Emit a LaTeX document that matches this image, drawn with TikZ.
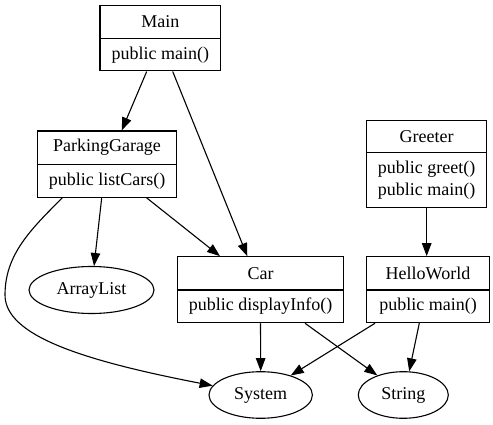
\documentclass[tikz,border=0pt]{standalone}
\usepackage{fontspec}
\setmainfont{Liberation Serif}
\usetikzlibrary{arrows.meta,shapes.geometric}
\begin{document}
\begin{tikzpicture}[x=1pt,y=-1pt,
  font=\fontsize{18}{21.6}\selectfont,
  box/.style={draw,line width=1.1pt,inner sep=0pt,rectangle},
  oval/.style={draw,line width=1.1pt,ellipse,inner sep=0pt},
  txt/.style={inner sep=0pt,align=center},
  edge/.style={line width=1.1pt,-{Triangle[length=13pt,width=9.5pt]}}]
\useasboundingbox (0,0) rectangle (493,425);
% Main
\node[box,minimum width=120.7pt,minimum height=65.3pt] (main) at (160.3,38.3) {};
\draw[line width=1.1pt] (100,38.3) -- (220.7,38.3);
\node[txt] (mainT) at (160.3,22) {Main};
\node[txt] (mainB) at (160.3,54.7) {public main()};
% ParkingGarage
\node[box,minimum width=138.6pt,minimum height=66.3pt] (pg) at (107,164.2) {};
\draw[line width=1.1pt] (37.7,164.3) -- (176.3,164.3);
\node[txt] (pgT) at (107,147.6) {ParkingGarage};
\node[txt] (pgB) at (107,180.8) {public listCars()};
% Greeter
\node[box,minimum width=120pt,minimum height=87pt] (gr) at (426.7,164.2) {};
\draw[line width=1.1pt] (366.7,152.7) -- (486.7,152.7);
\node[txt] (grT) at (426.7,136.7) {Greeter};
\node[txt] (grB) at (426.7,180.2) {public greet()\\public main()};
% Car
\node[box,minimum width=165.6pt,minimum height=66pt] (car) at (260.5,289.7) {};
\draw[line width=1.1pt] (177.7,290) -- (343.3,290);
\node[txt] (carT) at (260.5,273.4) {Car};
\node[txt] (carB) at (260.5,306.4) {public displayInfo()};
% HelloWorld
\node[box,minimum width=122.6pt,minimum height=66pt] (hw) at (428,289.7) {};
\draw[line width=1.1pt] (366.7,290) -- (489.3,290);
\node[txt] (hwT) at (428,273.4) {HelloWorld};
\node[txt] (hwB) at (428,306.4) {public main()};
% Ellipses
\node[oval,minimum width=125pt,minimum height=47pt] (al) at (91.5,290) {ArrayList};
\node[oval,minimum width=103.4pt,minimum height=46.6pt] (sys) at (260.7,395) {System};
\node[oval,minimum width=90pt,minimum height=46.6pt] (str) at (403.3,395) {String};
% Edges
\draw[edge] ([xshift=-13.6pt]main.south) -- ([xshift=14.7pt]pg.north);
\draw[edge] ([xshift=12.4pt]main.south) -- ([xshift=-13.2pt]car.north);
\draw[edge] ([xshift=-5.3pt]pg.south) -- (al.84);
\draw[edge] ([xshift=39.7pt]pg.south) -- ([xshift=-40.5pt]car.north);
\draw[edge] ([xshift=-44.7pt]pg.south) .. controls (30,230) and (5,255) .. (5,295)
   .. controls (5,335) and (80,360) .. (sys.169);
\draw[edge] (car.south) -- (sys.north);
\draw[edge] ([xshift=44.5pt]car.south) -- (str.143);
\draw[edge] (gr.south) -- ([xshift=-1.3pt]hw.north);
\draw[edge] ([xshift=-53pt]hw.south) -- (sys.33);
\draw[edge] ([xshift=-8.7pt]hw.south) -- (str.76);
\end{tikzpicture}
\end{document}
